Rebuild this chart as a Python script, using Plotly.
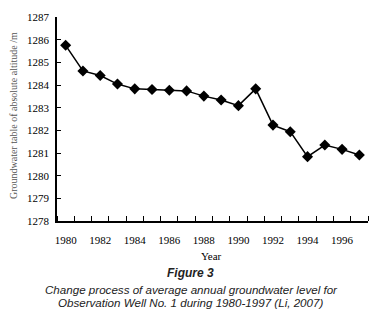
import plotly.graph_objects as go

years = list(range(1980, 1998))
levels = [1285.75, 1284.62, 1284.42, 1284.04, 1283.83, 1283.80, 1283.77, 1283.74,
          1283.51, 1283.34, 1283.09, 1283.83, 1282.23, 1281.94, 1280.84, 1281.35,
          1281.16, 1280.91]
x_ticks = [1980, 1982, 1984, 1986, 1988, 1990, 1992, 1994, 1996]
y_ticks = [1278, 1279, 1280, 1281, 1282, 1283, 1284, 1285, 1286, 1287]

W, H = 379, 314
L, R, T, B = 57, 11, 13, 93
PH = H - T - B

def py(pix):
    return 1 - (pix - T) / PH

def px(pix):
    return (pix - L) / (W - L - R)

fig = go.Figure()
fig.add_trace(go.Scatter(
    x=years, y=levels, mode="lines+markers",
    line=dict(color="black", width=1.5),
    marker=dict(symbol="diamond", size=8.5, color="black"),
    showlegend=False, cliponaxis=False,
))

serif = "Liberation Serif, Times New Roman, serif"
sans = "Liberation Sans, Arial, sans-serif"

fig.update_layout(
    width=W, height=H,
    margin=dict(l=L, r=R, t=T, b=B),
    plot_bgcolor="white", paper_bgcolor="white",
    font=dict(family=serif, size=11, color="black"),
    xaxis=dict(
        range=[1979.5, 1997.5], tickvals=x_ticks, ticktext=[str(v) for v in x_ticks],
        ticks="", showgrid=False, zeroline=False,
        showline=True, linecolor="black", linewidth=1.5,
        tickfont=dict(family=serif, size=11, color="black"),
        minor=dict(tick0=1979.5, dtick=1, ticks="inside", ticklen=5,
                   tickcolor="black", tickwidth=1, showgrid=False),
        ticklabelstandoff=8,
    ),
    yaxis=dict(
        range=[1278, 1287], tickvals=y_ticks, ticks="inside", ticklen=4,
        tickcolor="black", tickwidth=1,
        showgrid=False, zeroline=False,
        showline=True, linecolor="black", linewidth=1.5,
        tickfont=dict(family=serif, size=11, color="black"),
        ticklabelstandoff=4,
    ),
    annotations=[
        dict(text="Groundwater table of absolute altitude /m", textangle=-90,
             xref="paper", yref="paper", x=px(13), y=py(114),
             xanchor="center", yanchor="middle", showarrow=False,
             font=dict(family=serif, size=10, color="#555555")),
        dict(text="Year", xref="paper", yref="paper", x=px(211), y=py(257),
             xanchor="center", yanchor="middle", showarrow=False,
             font=dict(family=serif, size=11, color="black")),
        dict(text="<b><i>Figure 3</i></b>", xref="paper", yref="paper",
             x=px(190), y=py(274), xanchor="center", yanchor="middle",
             showarrow=False, font=dict(family=sans, size=12, color="#222222")),
        dict(text="<i>Change process of average annual groundwater level for</i>",
             xref="paper", yref="paper", x=px(191), y=py(290.5),
             xanchor="center", yanchor="middle", showarrow=False,
             font=dict(family=sans, size=11.6, color="#222222")),
        dict(text="<i>Observation Well No. 1 during 1980-1997 (Li, 2007)</i>",
             xref="paper", yref="paper", x=px(190), y=py(304),
             xanchor="center", yanchor="middle", showarrow=False,
             font=dict(family=sans, size=11.6, color="#222222")),
    ],
)

fig.write_html("out.html", config={"displayModeBar": False},
               post_script="document.body.style.margin='0';document.body.style.padding='0';")
